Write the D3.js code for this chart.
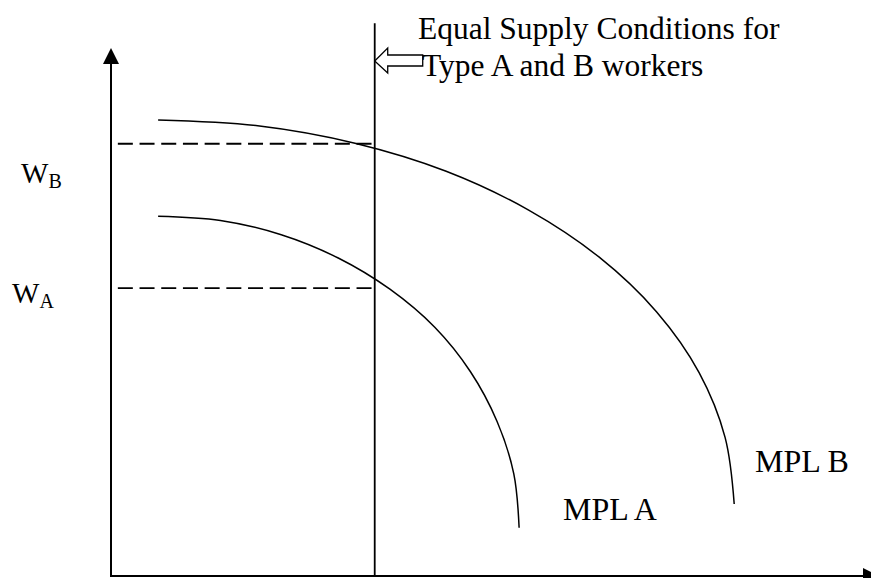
<html>
<head>
<script src="https://d3js.org/d3.v7.min.js"></script>
<style>
    body { margin: 0; background: #fff; }
    svg { display: block; }
    .lbl { font-family: "Liberation Serif", "Times New Roman", serif; fill: #000; }
</style>
</head>
<body>
<svg id="chart" width="871" height="578"></svg>
<script>

    // curve points (labour on x, wage / MPL on y)
    var mplAx = [0.62, 1.44, 2.24, 2.99, 3.67, 4.26, 4.73, 5.08, 5.30, 5.37];
    var mplAy = [6.82, 6.74, 6.47, 6.03, 5.44, 4.72, 3.88, 2.94, 1.95, 0.93];

    var mplBx = [0.62, 1.93, 3.21, 4.41, 5.49, 6.42, 7.18, 7.74, 8.08, 8.20];
    var mplBy = [8.64, 8.53, 8.20, 7.67, 6.94, 6.05, 5.01, 3.86, 2.64, 1.38];

    var supplyX = 3.47;
    var supplyTop = 10.47;

    var wageLevels = [8.19, 5.46];
    var wageNames = ['B', 'A'];
    var dashStart = 0.09;

    var curveLabels = ['MPL A', 'MPL B'];

    var svg = d3.select('#chart');

    var x = d3.scaleLinear().domain([0, 10]).range([111, 871]);
    var y = d3.scaleLinear().domain([0, 10]).range([577, 48]);

    var line = d3.line()
        .x(function(d) { return x(d[0]); })
        .y(function(d) { return y(d[1]); })
        .curve(d3.curveCatmullRom.alpha(0.5));

    // axes
    svg.append('line')
        .attr('x1', x(0)).attr('y1', y(0))
        .attr('x2', x(0)).attr('y2', y(10) + 10)
        .attr('stroke', '#000').attr('stroke-width', 2);
    svg.append('path')
        .attr('d', 'M' + x(0) + ',' + y(10) + 'l-8,16l16,0z')
        .attr('fill', '#000');

    svg.append('line')
        .attr('x1', x(0) - 1).attr('y1', y(0) - 1)
        .attr('x2', x(10)).attr('y2', y(0) - 1)
        .attr('stroke', '#000').attr('stroke-width', 2);
    svg.append('path')
        .attr('d', 'M' + (x(10) - 8) + ',' + (y(0) - 9) + 'l16,8l-16,8z')
        .attr('fill', '#000');

    // equal supply line
    svg.append('line')
        .attr('x1', x(supplyX)).attr('y1', y(supplyTop))
        .attr('x2', x(supplyX)).attr('y2', y(0))
        .attr('stroke', '#000').attr('stroke-width', 1.8);

    // dashed wage lines
    svg.selectAll('.wage')
        .data(wageLevels)
      .enter()
        .append('line')
        .attr('class', 'wage')
        .attr('x1', x(dashStart))
        .attr('x2', x(supplyX))
        .attr('y1', function(d) { return y(d); })
        .attr('y2', function(d) { return y(d); })
        .attr('stroke', '#000')
        .attr('stroke-width', 1.8)
        .attr('stroke-dasharray', '15,6.7');

    // MPL curves
    var curves = [d3.zip(mplAx, mplAy), d3.zip(mplBx, mplBy)];
    svg.selectAll('.mpl')
        .data(curves)
      .enter()
        .append('path')
        .attr('class', 'mpl')
        .attr('d', line)
        .attr('fill', 'none')
        .attr('stroke', '#000')
        .attr('stroke-width', 1.5);

    // wage labels
    var wl = svg.selectAll('.wlabel')
        .data(wageNames)
      .enter()
        .append('text')
        .attr('class', 'lbl wlabel')
        .attr('x', function(d, i) { return i === 0 ? 21 : 12; })
        .attr('y', function(d, i) { return y(wageLevels[i]) + (i === 0 ? 39 : 15); })
        .style('font-size', '29px');
    wl.append('tspan').text('W');
    wl.append('tspan')
        .attr('dy', 5)
        .style('font-size', '20px')
        .text(function(d) { return d; });

    // curve labels
    svg.append('text').attr('class', 'lbl')
        .attr('x', 563).attr('y', 520)
        .style('font-size', '32px')
        .text(curveLabels[0]);
    svg.append('text').attr('class', 'lbl')
        .attr('x', 755).attr('y', 472)
        .style('font-size', '32px')
        .text(curveLabels[1]);

    // annotation
    svg.append('text').attr('class', 'lbl')
        .attr('x', 418).attr('y', 39)
        .style('font-size', '31.5px')
        .text('Equal Supply Conditions for');
    svg.append('text').attr('class', 'lbl')
        .attr('x', 422).attr('y', 76)
        .style('font-size', '31.5px')
        .text('Type A and B workers');

    // hollow block arrow pointing at the supply line
    var ax = x(supplyX), ay = 61;
    svg.append('path')
        .attr('d', 'M' + ax + ',' + ay +
                   'L' + (ax + 13) + ',' + (ay - 13) +
                   'L' + (ax + 13) + ',' + (ay - 6) +
                   'L' + (ax + 48) + ',' + (ay - 6) +
                   'L' + (ax + 48) + ',' + (ay + 5) +
                   'L' + (ax + 13) + ',' + (ay + 5) +
                   'L' + (ax + 13) + ',' + (ay + 12) + 'Z')
        .attr('fill', '#fff')
        .attr('stroke', '#000')
        .attr('stroke-width', 1.3);

</script>
</body>
</html>
